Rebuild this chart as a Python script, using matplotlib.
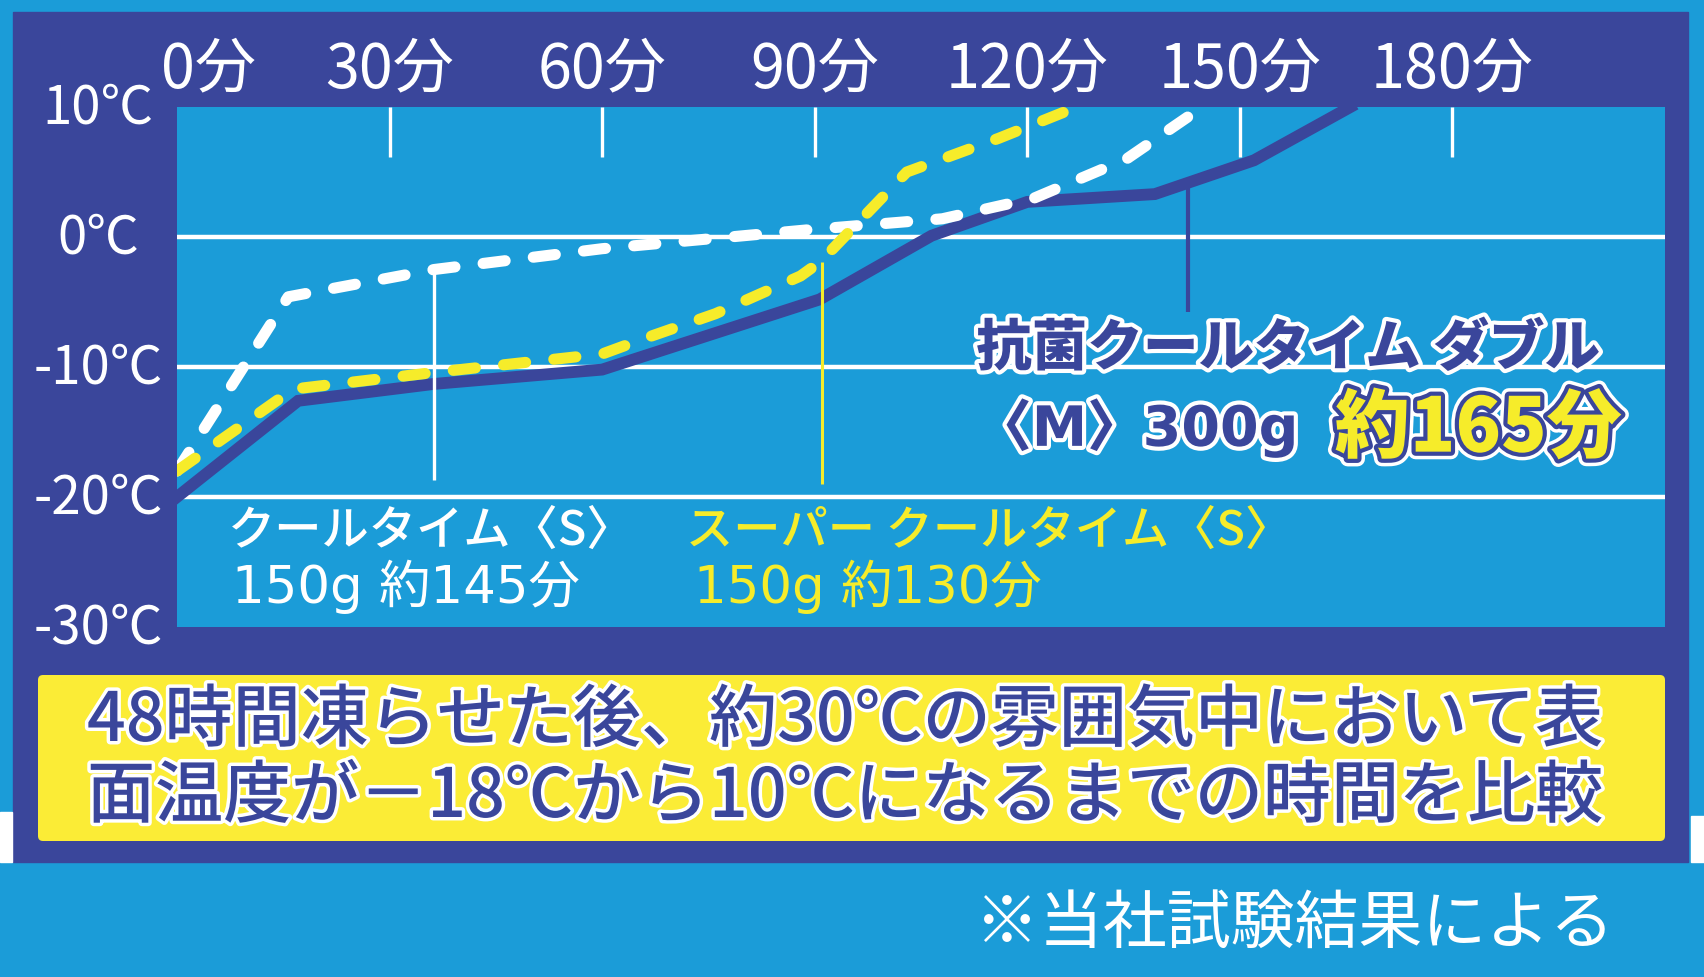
import matplotlib
matplotlib.use("Agg")
import matplotlib.pyplot as plt
from matplotlib.patches import Rectangle, FancyBboxPatch
import matplotlib.patheffects as pe

# axis labels
x_ticks = [0, 30, 60, 90, 120, 150, 180]
x_labels = ["0分", "30分", "60分", "90分", "120分", "150分", "180分"]
y_ticks = [10, 0, -10, -20, -30]
y_labels = ["10℃", "0℃", "-10℃", "-20℃", "-30℃"]

# 抗菌クールタイム ダブル〈M〉300g  (solid navy)
w_min = [0, 17.1, 36.3, 60, 90.7, 106.5, 120, 138, 152, 165.6]
w_temp = [-20, -12.6, -11.3, -10.2, -4.8, 0.1, 2.7, 3.3, 5.9, 10]

# クールタイム〈S〉150g  (white dashed)
c_min = [0, 15.7, 36.3, 60, 90, 108, 121, 134, 144.7]
c_temp = [-18, -4.6, -2.5, -0.9, 0.6, 1.4, 3.0, 6.0, 10]

# スーパー クールタイム〈S〉150g  (yellow dashed)
s_min = [0, 16.4, 36.6, 60, 66, 76, 88, 90.8, 103, 116, 127]
s_temp = [-18, -11.7, -10.4, -9.0, -7.8, -5.9, -3.0, -1.9, 5.0, 7.6, 10]

# leader lines (minute, top temp, bottom temp)
c_lead = (36.3, -2.5, -18.7)
s_lead = (91.0, -1.9, -19.0)
w_lead = (142.7, 4.1, -5.8)

BLUE = "#1b9cd8"
NAVY = "#3a469b"
YEL = "#f6ec2a"
BOXYEL = "#fbec36"

plt.rcParams['font.family'] = ['Noto Sans CJK JP', 'DejaVu Sans']
wide = ['DejaVu Sans', 'Noto Sans CJK JP']   # wider digits, kana from Noto

fig = plt.figure(figsize=(17.04, 9.78), dpi=100)
fig.patch.set_facecolor(BLUE)

# background frame in pixel coordinates
bg = fig.add_axes([0, 0, 1, 1])
bg.set_xlim(0, 1704)
bg.set_ylim(978, 0)
bg.axis('off')
bg.add_patch(Rectangle((13, 13), 1688 - 13, 863 - 13, color=NAVY))
bg.add_patch(Rectangle((0, 813), 12, 50, color='white'))
bg.add_patch(Rectangle((1691, 817), 13, 46, color='white'))
bg.add_patch(FancyBboxPatch((38, 676), 1627, 166, boxstyle="round,pad=0,rounding_size=5",
                            fc=BOXYEL, ec='none'))

# main chart
ax = fig.add_axes([177 / 1704, 1 - 628 / 978, (1665 - 177) / 1704, 520 / 978])
ax.set_facecolor(BLUE)
ax.set_xlim(0, 210)
ax.set_ylim(-30, 10)
for s in ax.spines.values():
    s.set_visible(False)
ax.set_xticks(x_ticks[1:])
ax.set_yticks([-20, -10, 0])
ax.tick_params(axis='x', direction='in', length=36, width=2.4, color='white',
               top=True, bottom=False, labeltop=False, labelbottom=False)
ax.tick_params(axis='y', left=False, labelleft=False)
ax.grid(axis='y', color='white', lw=3.2, zorder=1)
ax.set_axisbelow(True)

ax.plot(w_min, w_temp, color=NAVY, lw=8.5, solid_joinstyle='miter', zorder=3)
ax.vlines(c_lead[0], c_lead[2], c_lead[1], color='white', lw=2.4, zorder=3.5)
ax.vlines(s_lead[0], s_lead[2], s_lead[1], color=YEL, lw=2.2, zorder=3.5)
ax.vlines(w_lead[0], w_lead[2], w_lead[1], color=NAVY, lw=3, zorder=2)
ax.plot(c_min, c_temp, color='white', lw=8, dashes=(2.0, 2.55), dash_capstyle='round', zorder=4)
ax.plot(s_min, s_temp, color=YEL, lw=8, dashes=(2.0, 2.55), dash_capstyle='round', zorder=5)

# tick labels
for t, lab in zip(x_ticks, x_labels):
    lx = t if t else 4.4
    ax.text(lx, 1.072, lab, transform=ax.get_xaxis_transform(), ha='center', va='center',
            color='white', fontsize=44)
for t, lab in zip(y_ticks, y_labels):
    ax.text(-0.053, t, lab, transform=ax.get_yaxis_transform(), ha='center', va='center',
            color='white', fontsize=38)

# series labels
ax.text(7.2, -22.6, "クールタイム〈S〉", color='white', fontsize=34, va='center', weight='medium')
ax.text(7.8, -26.8, "150g 約145分", color='white', fontsize=37, va='center', family=wide)
ax.text(71.8, -22.6, "スーパー クールタイム〈S〉", color=YEL, fontsize=34, va='center', weight='medium')
ax.text(73.0, -26.8, "150g 約130分", color=YEL, fontsize=37, va='center', family=wide)

outline = [pe.withStroke(linewidth=6, foreground='white')]
ax.text(112.8, -8.6, "抗菌クールタイム ダブル", color=NAVY, fontsize=40, va='center',
        weight='heavy', path_effects=outline)
ax.text(112.8, -14.7, "〈M〉300g", color=NAVY, fontsize=40, va='center',
        weight='heavy', family=wide, path_effects=outline)
ax.text(163.4, -14.8, "約165分", color=YEL, fontsize=54, va='center', weight='heavy',
        path_effects=[pe.withStroke(linewidth=11, foreground='white'),
                      pe.withStroke(linewidth=6, foreground=NAVY)])

# note box
glow = [pe.withStroke(linewidth=5, foreground='white')]
bg.text(87, 722, "48時間凍らせた後、約30℃の雰囲気中において表", color=NAVY, fontsize=49,
        va='center', weight='medium', path_effects=glow)
bg.text(87, 798, "面温度が－18℃から10℃になるまでの時間を比較", color=NAVY, fontsize=49,
        va='center', weight='medium', path_effects=glow)
bg.text(1614, 925, "※当社試験結果による", color='white', fontsize=46, va='center', ha='right')

fig.savefig("out.png", dpi=100, facecolor=fig.get_facecolor())
